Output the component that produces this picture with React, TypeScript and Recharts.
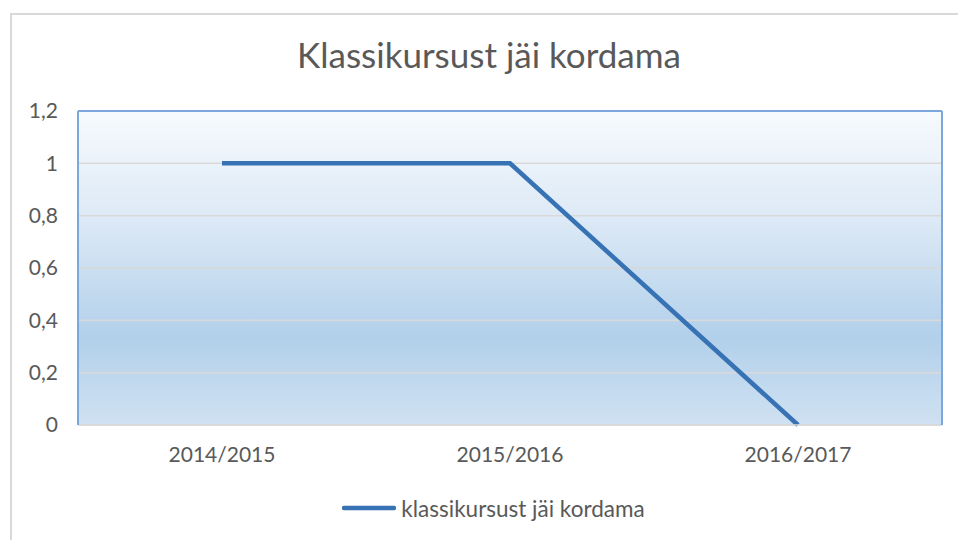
import React from "react";
import {
  CartesianGrid,
  Legend,
  Line,
  LineChart,
  XAxis,
  YAxis
} from "recharts";

const years = ["2014/2015", "2015/2016", "2016/2017"];
const repeated = [1, 1, 0];
const yTicks = [0, 0.2, 0.4, 0.6, 0.8, 1, 1.2];
const seriesName = "klassikursust jäi kordama";
const title = "Klassikursust jäi kordama";

const data = years.map((year, i) => ({ year, value: repeated[i] }));

const font = "Lato, 'Open Sans', sans-serif";
const textColor = "#595959";
const lineColor = "#3672b4";
const frameBlue = "#7ba7dc";

function LegendContent(props: any) {
  const items = props.payload || [];
  return (
    <div style={{ display: "flex", justifyContent: "center", height: 20, alignItems: "center" }}>
      {items.map((item: any) => (
        <div key={item.value} style={{ display: "flex", alignItems: "center", marginLeft: 26 }}>
          <svg width={54} height={20}>
            <line x1={2} y1={10} x2={52} y2={10} stroke={item.color} strokeWidth={4.5} strokeLinecap="round" />
          </svg>
          <span style={{ fontFamily: font, fontSize: 22.5, color: textColor, marginLeft: 5 }}>
            {item.value}
          </span>
        </div>
      ))}
    </div>
  );
}

export default function App() {
  return (
    <div style={{ position: "fixed", left: 0, top: 0, width: 958, height: 540, background: "#fff" }}>
      <div
        style={{
          position: "absolute",
          left: 10,
          top: 13,
          width: 960,
          height: 540,
          border: "2px solid #d9d9d9",
          boxSizing: "border-box"
        }}
      />
      <div
        style={{
          position: "absolute",
          left: 0,
          top: 33,
          width: 978,
          textAlign: "center",
          fontFamily: font,
          fontSize: 35,
          color: textColor
        }}
      >
        {title}
      </div>
      <div style={{ position: "absolute", left: 0, top: 0 }}>
        <LineChart width={958} height={540} data={data} margin={{ top: 110, right: 15, left: 18, bottom: 22 }}>
          <defs>
            <linearGradient id="plotFill" x1="0" y1="0" x2="0" y2="1">
              <stop offset="0%" stopColor="#f7fafd" />
              <stop offset="35%" stopColor="#dce9f6" />
              <stop offset="72%" stopColor="#b2d0ea" />
              <stop offset="100%" stopColor="#cfe1f2" />
            </linearGradient>
          </defs>
          <CartesianGrid vertical={false} fill="url(#plotFill)" stroke="#d9d9d9" strokeWidth={1.5} />
          <XAxis
            dataKey="year"
            height={73}
            padding={{ left: 144, right: 144 }}
            tickLine={false}
            tickSize={0}
            tickMargin={22}
            axisLine={{ stroke: "#d9d9d9", strokeWidth: 1.5 }}
            tick={{ fill: textColor, fontFamily: font, fontSize: 21 }}
          />
          <XAxis
            xAxisId="top"
            dataKey="year"
            orientation="top"
            height={1}
            tick={false}
            tickLine={false}
            axisLine={{ stroke: frameBlue, strokeWidth: 2 }}
          />
          <YAxis
            width={60}
            domain={[0, 1.2]}
            ticks={yTicks}
            tickLine={false}
            tickSize={0}
            tickMargin={20}
            tickFormatter={(v: number) => String(v).replace(".", ",")}
            axisLine={{ stroke: frameBlue, strokeWidth: 2 }}
            tick={{ fill: textColor, fontFamily: font, fontSize: 21 }}
          />
          <YAxis
            yAxisId="right"
            orientation="right"
            width={1}
            domain={[0, 1.2]}
            tick={false}
            tickLine={false}
            axisLine={{ stroke: frameBlue, strokeWidth: 2 }}
          />
          <Legend verticalAlign="bottom" content={<LegendContent />} />
          <Line
            type="linear"
            dataKey="value"
            name={seriesName}
            stroke={lineColor}
            strokeWidth={4.5}
            dot={false}
            activeDot={false}
            isAnimationActive={false}
          />
        </LineChart>
      </div>
    </div>
  );
}
